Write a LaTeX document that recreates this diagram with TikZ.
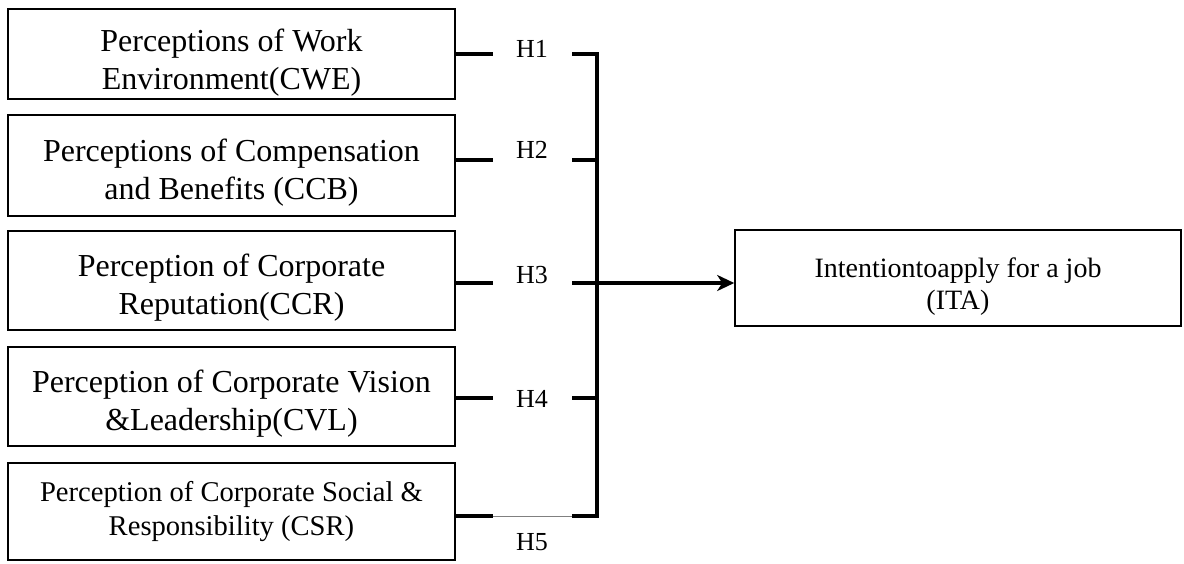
\documentclass[tikz,border=0pt]{standalone}
\usepackage{fontspec}
\setmainfont{Liberation Serif}
\usetikzlibrary{arrows.meta}
\begin{document}
\begin{tikzpicture}[x=1pt,y=-1pt,
  box/.style={draw, line width=1.6pt, inner sep=0pt, align=center, minimum width=447},
  bigtext/.style={font=\fontsize{32}{38}\selectfont},
  lnk/.style={line width=3.2pt, line join=miter},
  hlab/.style={inner sep=0pt, anchor=base, font=\fontsize{26}{30}\selectfont}]
\useasboundingbox (0,0) rectangle (1184,563);
\node[box, bigtext, minimum height=90] (b1) at (231.5,54) {\rule{0pt}{39pt}Perceptions of Work\\Environment(CWE)};
\node[box, bigtext, minimum height=101] (b2) at (231.5,165.5) {\rule{0pt}{37pt}Perceptions of Compensation\\and Benefits (CCB)};
\node[box, bigtext, minimum height=99] (b3) at (231.5,280.5) {\rule{0pt}{37pt}Perception of Corporate\\Reputation(CCR)};
\node[box, bigtext, minimum height=99] (b4) at (231.5,396.5) {\rule{0pt}{37pt}Perception of Corporate Vision\\\&Leadership(CVL)};
\node[box, minimum height=97, font=\fontsize{28.6}{34}\selectfont] (b5) at (231.5,511.5) {Perception of Corporate Social \&\\Responsibility (CSR)};
\node[box, minimum width=446, minimum height=96, font=\fontsize{28}{32}\selectfont] (ita) at (958,278) {\rule{0pt}{37pt}Intentiontoapply for a job\\(ITA)};

\node[hlab] (h1) at (532,57) {H1};
\node[hlab] (h2) at (532,158) {H2};
\node[hlab] (h3) at (532,283) {H3};
\node[hlab] (h4) at (532,407) {H4};
\node[hlab] (h5) at (532,550) {H5};

\coordinate (l1) at (493,54);  \coordinate (r1) at (572,54);
\coordinate (l2) at (493,160); \coordinate (r2) at (572,160);
\coordinate (l3) at (493,283); \coordinate (r3) at (572,283);
\coordinate (l4) at (493,398); \coordinate (r4) at (572,398);
\coordinate (l5) at (493,516); \coordinate (r5) at (572,516);
\coordinate (j1) at (597,54);
\coordinate (j5) at (597,516);

\draw[lnk] (b1.east |- l1) -- (l1);
\draw[lnk] (b2.east |- l2) -- (l2);
\draw[lnk] (b3.east |- l3) -- (l3);
\draw[lnk] (b4.east |- l4) -- (l4);
\draw[lnk] (b5.east |- l5) -- (l5);
\draw[line width=1pt, gray] (l5) -- (r5);
\draw[lnk] (r1) -- (j1) -- (j5) -- (r5);
\draw[lnk] (r2) -- (r2 -| j1);
\draw[lnk] (r4) -- (r4 -| j1);
\draw[lnk, -{Stealth[length=17pt,width=16pt,inset=5pt]}] (r3) -- (ita.west |- r3);
\end{tikzpicture}
\end{document}
